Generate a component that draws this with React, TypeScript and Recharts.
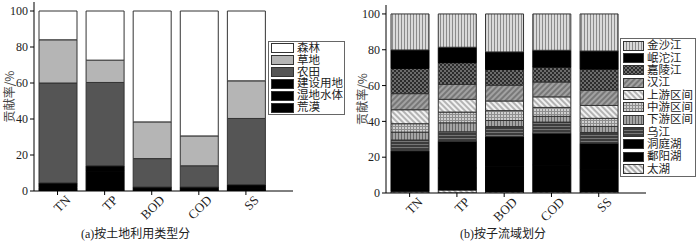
import React from 'react';
import { BarChart, Bar, XAxis, YAxis } from 'recharts';

// 污染物类别
const categories = ['TN', 'TP', 'BOD', 'COD', 'SS'];

// (a) 按土地利用类型分，从下往上堆叠
const huangmo = [0.5, 0.5, 0.2, 0.2, 0.5];
const shidi = [1.5, 10.5, 1.0, 1.0, 1.0];
const jianshe = [2.5, 3.0, 1.0, 1.0, 2.0];
const nongtian = [55.5, 46.3, 15.8, 11.8, 36.8];
const caodi = [24.0, 12.4, 20.4, 16.6, 20.9];
const senlin = [16.0, 27.3, 61.6, 69.4, 38.8];

// (b) 按子流域划分，从下往上堆叠
const taihu = [1.0, 1.7, 0.8, 0.8, 0.8];
const poyang = [10.2, 12.2, 13.8, 14.7, 12.2];
const dongting = [12.4, 15.0, 16.9, 17.9, 14.8];
const wujiang = [6.0, 5.3, 5.6, 6.2, 6.0];
const xiayou = [4.4, 5.0, 3.4, 3.2, 3.4];
const zhongyou = [4.7, 6.0, 5.5, 5.0, 4.5];
const shangyou = [7.8, 7.1, 5.4, 5.9, 7.2];
const hanjiang = [9.0, 8.3, 8.8, 8.3, 8.4];
const jialing = [14.1, 12.2, 8.8, 8.3, 11.9];
const mintuo = [10.3, 8.6, 9.8, 9.4, 10.1];
const jinsha = [20.1, 18.6, 21.2, 20.3, 20.7];

const yTicks = [0, 20, 40, 60, 80, 100];
const xTicks = [1, 2, 3, 4, 5];

const serif = '"Liberation Serif", "Noto Sans CJK SC", serif';

const seriesA = [
  { key: 'huangmo', name: '荒漠', values: huangmo, fill: '#000' },
  { key: 'shidi', name: '湿地水体', values: shidi, fill: '#000' },
  { key: 'jianshe', name: '建设用地', values: jianshe, fill: '#000' },
  { key: 'nongtian', name: '农田', values: nongtian, fill: '#555' },
  { key: 'caodi', name: '草地', values: caodi, fill: '#b5b5b5' },
  { key: 'senlin', name: '森林', values: senlin, fill: '#fff' },
];

const seriesB = [
  { key: 'taihu', name: '太湖', values: taihu, fill: 'url(#p-taihu)' },
  { key: 'poyang', name: '鄱阳湖', values: poyang, fill: '#000' },
  { key: 'dongting', name: '洞庭湖', values: dongting, fill: '#000' },
  { key: 'wujiang', name: '乌江', values: wujiang, fill: 'url(#p-wujiang)' },
  { key: 'xiayou', name: '下游区间', values: xiayou, fill: 'url(#p-xiayou)' },
  { key: 'zhongyou', name: '中游区间', values: zhongyou, fill: 'url(#p-zhongyou)' },
  { key: 'shangyou', name: '上游区间', values: shangyou, fill: 'url(#p-shangyou)' },
  { key: 'hanjiang', name: '汉江', values: hanjiang, fill: 'url(#p-hanjiang)' },
  { key: 'jialing', name: '嘉陵江', values: jialing, fill: 'url(#p-jialing)' },
  { key: 'mintuo', name: '岷沱江', values: mintuo, fill: '#000' },
  { key: 'jinsha', name: '金沙江', values: jinsha, fill: 'url(#p-jinsha)' },
];

const buildRows = (series: typeof seriesA) =>
  categories.map((c, i) => {
    const row: Record<string, any> = { x: i + 1, name: c };
    series.forEach((s) => (row[s.key] = s.values[i]));
    return row;
  });

const dataA = buildRows(seriesA);
const dataB = buildRows(seriesB);

const Patterns = () => (
  <svg width={0} height={0} style={{ position: 'absolute' }}>
    <defs>
      <pattern id="p-jinsha" patternUnits="userSpaceOnUse" width={3} height={3}>
        <rect width={3} height={3} fill="#dadada" />
        <line x1={0.5} y1={0} x2={0.5} y2={3} stroke="#8c8c8c" strokeWidth={1} />
      </pattern>
      <pattern id="p-jialing" patternUnits="userSpaceOnUse" width={4} height={4}>
        <rect width={4} height={4} fill="#2c2c2c" />
        <rect x={0} y={0} width={2} height={2} fill="#6c6c6c" />
        <rect x={2} y={2} width={2} height={2} fill="#6c6c6c" />
      </pattern>
      <pattern id="p-hanjiang" patternUnits="userSpaceOnUse" width={4} height={4} patternTransform="rotate(-45)">
        <rect width={4} height={4} fill="#a2a2a2" />
        <line x1={0} y1={1} x2={4} y2={1} stroke="#5c5c5c" strokeWidth={1.2} />
      </pattern>
      <pattern id="p-shangyou" patternUnits="userSpaceOnUse" width={4} height={4} patternTransform="rotate(45)">
        <rect width={4} height={4} fill="#f2f2f2" />
        <line x1={0} y1={1} x2={4} y2={1} stroke="#8a8a8a" strokeWidth={1.2} />
      </pattern>
      <pattern id="p-zhongyou" patternUnits="userSpaceOnUse" width={3} height={3}>
        <rect width={3} height={3} fill="#d0d0d0" />
        <line x1={0.5} y1={0} x2={0.5} y2={3} stroke="#8e8e8e" strokeWidth={1} />
        <line x1={0} y1={0.5} x2={3} y2={0.5} stroke="#8e8e8e" strokeWidth={1} />
      </pattern>
      <pattern id="p-xiayou" patternUnits="userSpaceOnUse" width={3} height={3}>
        <rect width={3} height={3} fill="#a4a4a4" />
        <line x1={0.5} y1={0} x2={0.5} y2={3} stroke="#666" strokeWidth={1} />
      </pattern>
      <pattern id="p-wujiang" patternUnits="userSpaceOnUse" width={3} height={3}>
        <rect width={3} height={3} fill="#3c3c3c" />
        <line x1={0} y1={0.5} x2={3} y2={0.5} stroke="#757575" strokeWidth={1} />
      </pattern>
      <pattern id="p-taihu" patternUnits="userSpaceOnUse" width={4} height={4} patternTransform="rotate(45)">
        <rect width={4} height={4} fill="#f4f4f4" />
        <line x1={0} y1={1} x2={4} y2={1} stroke="#7a7a7a" strokeWidth={1.2} />
      </pattern>
    </defs>
  </svg>
);

const AngleTick = (props: any) => {
  const { x, y, payload } = props;
  const label = categories[Math.round(payload.value) - 1] ?? '';
  const ax = x + 7;
  const ay = y - 3;
  return (
    <text
      x={ax}
      y={ay}
      transform={`rotate(-45 ${ax} ${ay})`}
      textAnchor="end"
      dominantBaseline="hanging"
      fontSize={13}
      fontFamily={serif}
      fill="#222"
    >
      {label}
    </text>
  );
};

const LegendBox = ({ items, left, top, width, height, swW, fontSize }: any) => (
  <div
    style={{
      position: 'absolute',
      left,
      top,
      width,
      height,
      boxSizing: 'border-box',
      border: '1px solid #666',
      background: '#fff',
      padding: '0 0 0 2px',
      display: 'flex',
      flexDirection: 'column',
      justifyContent: 'space-evenly',
      overflow: 'hidden',
    }}
  >
    {items.map((s: any) => (
      <div key={s.key} style={{ display: 'flex', alignItems: 'center', height: 11 }}>
        <svg width={swW + 1} height={10} style={{ flex: 'none' }}>
          <rect x={0.5} y={0.5} width={swW} height={9} fill={s.fill} stroke="#333" strokeWidth={1} />
        </svg>
        <span
          style={{
            marginLeft: 3,
            fontSize,
            lineHeight: '11px',
            fontFamily: serif,
            color: '#222',
            whiteSpace: 'nowrap',
          }}
        >
          {s.name}
        </span>
      </div>
    ))}
  </div>
);

const Panel = ({ data, series, marginLeft, marginRight, marginTop, marginBottom, labelOffset }: any) => (
  <BarChart
    width={350}
    height={243}
    data={data}
    margin={{ top: marginTop, right: marginRight, left: marginLeft, bottom: marginBottom }}
  >
    <XAxis
      dataKey="x"
      type="number"
      domain={[0.5, 6]}
      ticks={xTicks}
      allowDataOverflow
      tick={<AngleTick />}
      tickSize={4}
      height={40}
      stroke="#000"
      interval={0}
    />
    <YAxis
      type="number"
      domain={[0, 105]}
      ticks={yTicks}
      allowDataOverflow
      width={28}
      tickSize={4}
      tickMargin={2}
      stroke="#000"
      tick={{ fontSize: 12, fontFamily: serif, fill: '#222' }}
      label={{
        value: '贡献率/%',
        angle: -90,
        position: 'insideLeft',
        offset: labelOffset,
        style: { fontSize: 12, fontFamily: '"Noto Sans CJK SC", sans-serif', fill: '#444', textAnchor: 'middle' },
      }}
    />
    {series.map((s: any) => (
      <Bar
        key={s.key}
        dataKey={s.key}
        name={s.name}
        stackId="a"
        fill={s.fill}
        stroke={s.fill === '#000' ? '#000' : '#333'}
        strokeWidth={1}
        barSize={38}
        isAnimationActive={false}
      />
    ))}
  </BarChart>
);

const captionStyle: React.CSSProperties = {
  position: 'absolute',
  top: 224,
  fontSize: 12,
  fontFamily: serif,
  color: '#222',
  whiteSpace: 'nowrap',
};

export default function App() {
  return (
    <div style={{ position: 'absolute', left: 0, top: 0, width: 700, height: 243, background: '#fff', overflow: 'hidden' }}>
      <Patterns />
      <div style={{ position: 'absolute', left: 0, top: 0 }}>
        <Panel data={dataA} series={seriesA} marginLeft={6} marginRight={57} marginTop={2} marginBottom={12} labelOffset={4} />
      </div>
      <div style={{ position: 'absolute', left: 350, top: 0 }}>
        <Panel data={dataB} series={seriesB} marginLeft={8} marginRight={54} marginTop={5} marginBottom={10} labelOffset={5} />
      </div>
      <LegendBox
        items={[...seriesA].reverse()}
        left={268}
        top={41}
        width={77}
        height={74}
        swW={22}
        fontSize={11.5}
      />
      <LegendBox
        items={[...seriesB].reverse()}
        left={620}
        top={38}
        width={76}
        height={139}
        swW={20}
        fontSize={11.5}
      />
      <div style={{ ...captionStyle, left: 81 }}>(a)按土地利用类型分</div>
      <div style={{ ...captionStyle, left: 460 }}>(b)按子流域划分</div>
    </div>
  );
}
